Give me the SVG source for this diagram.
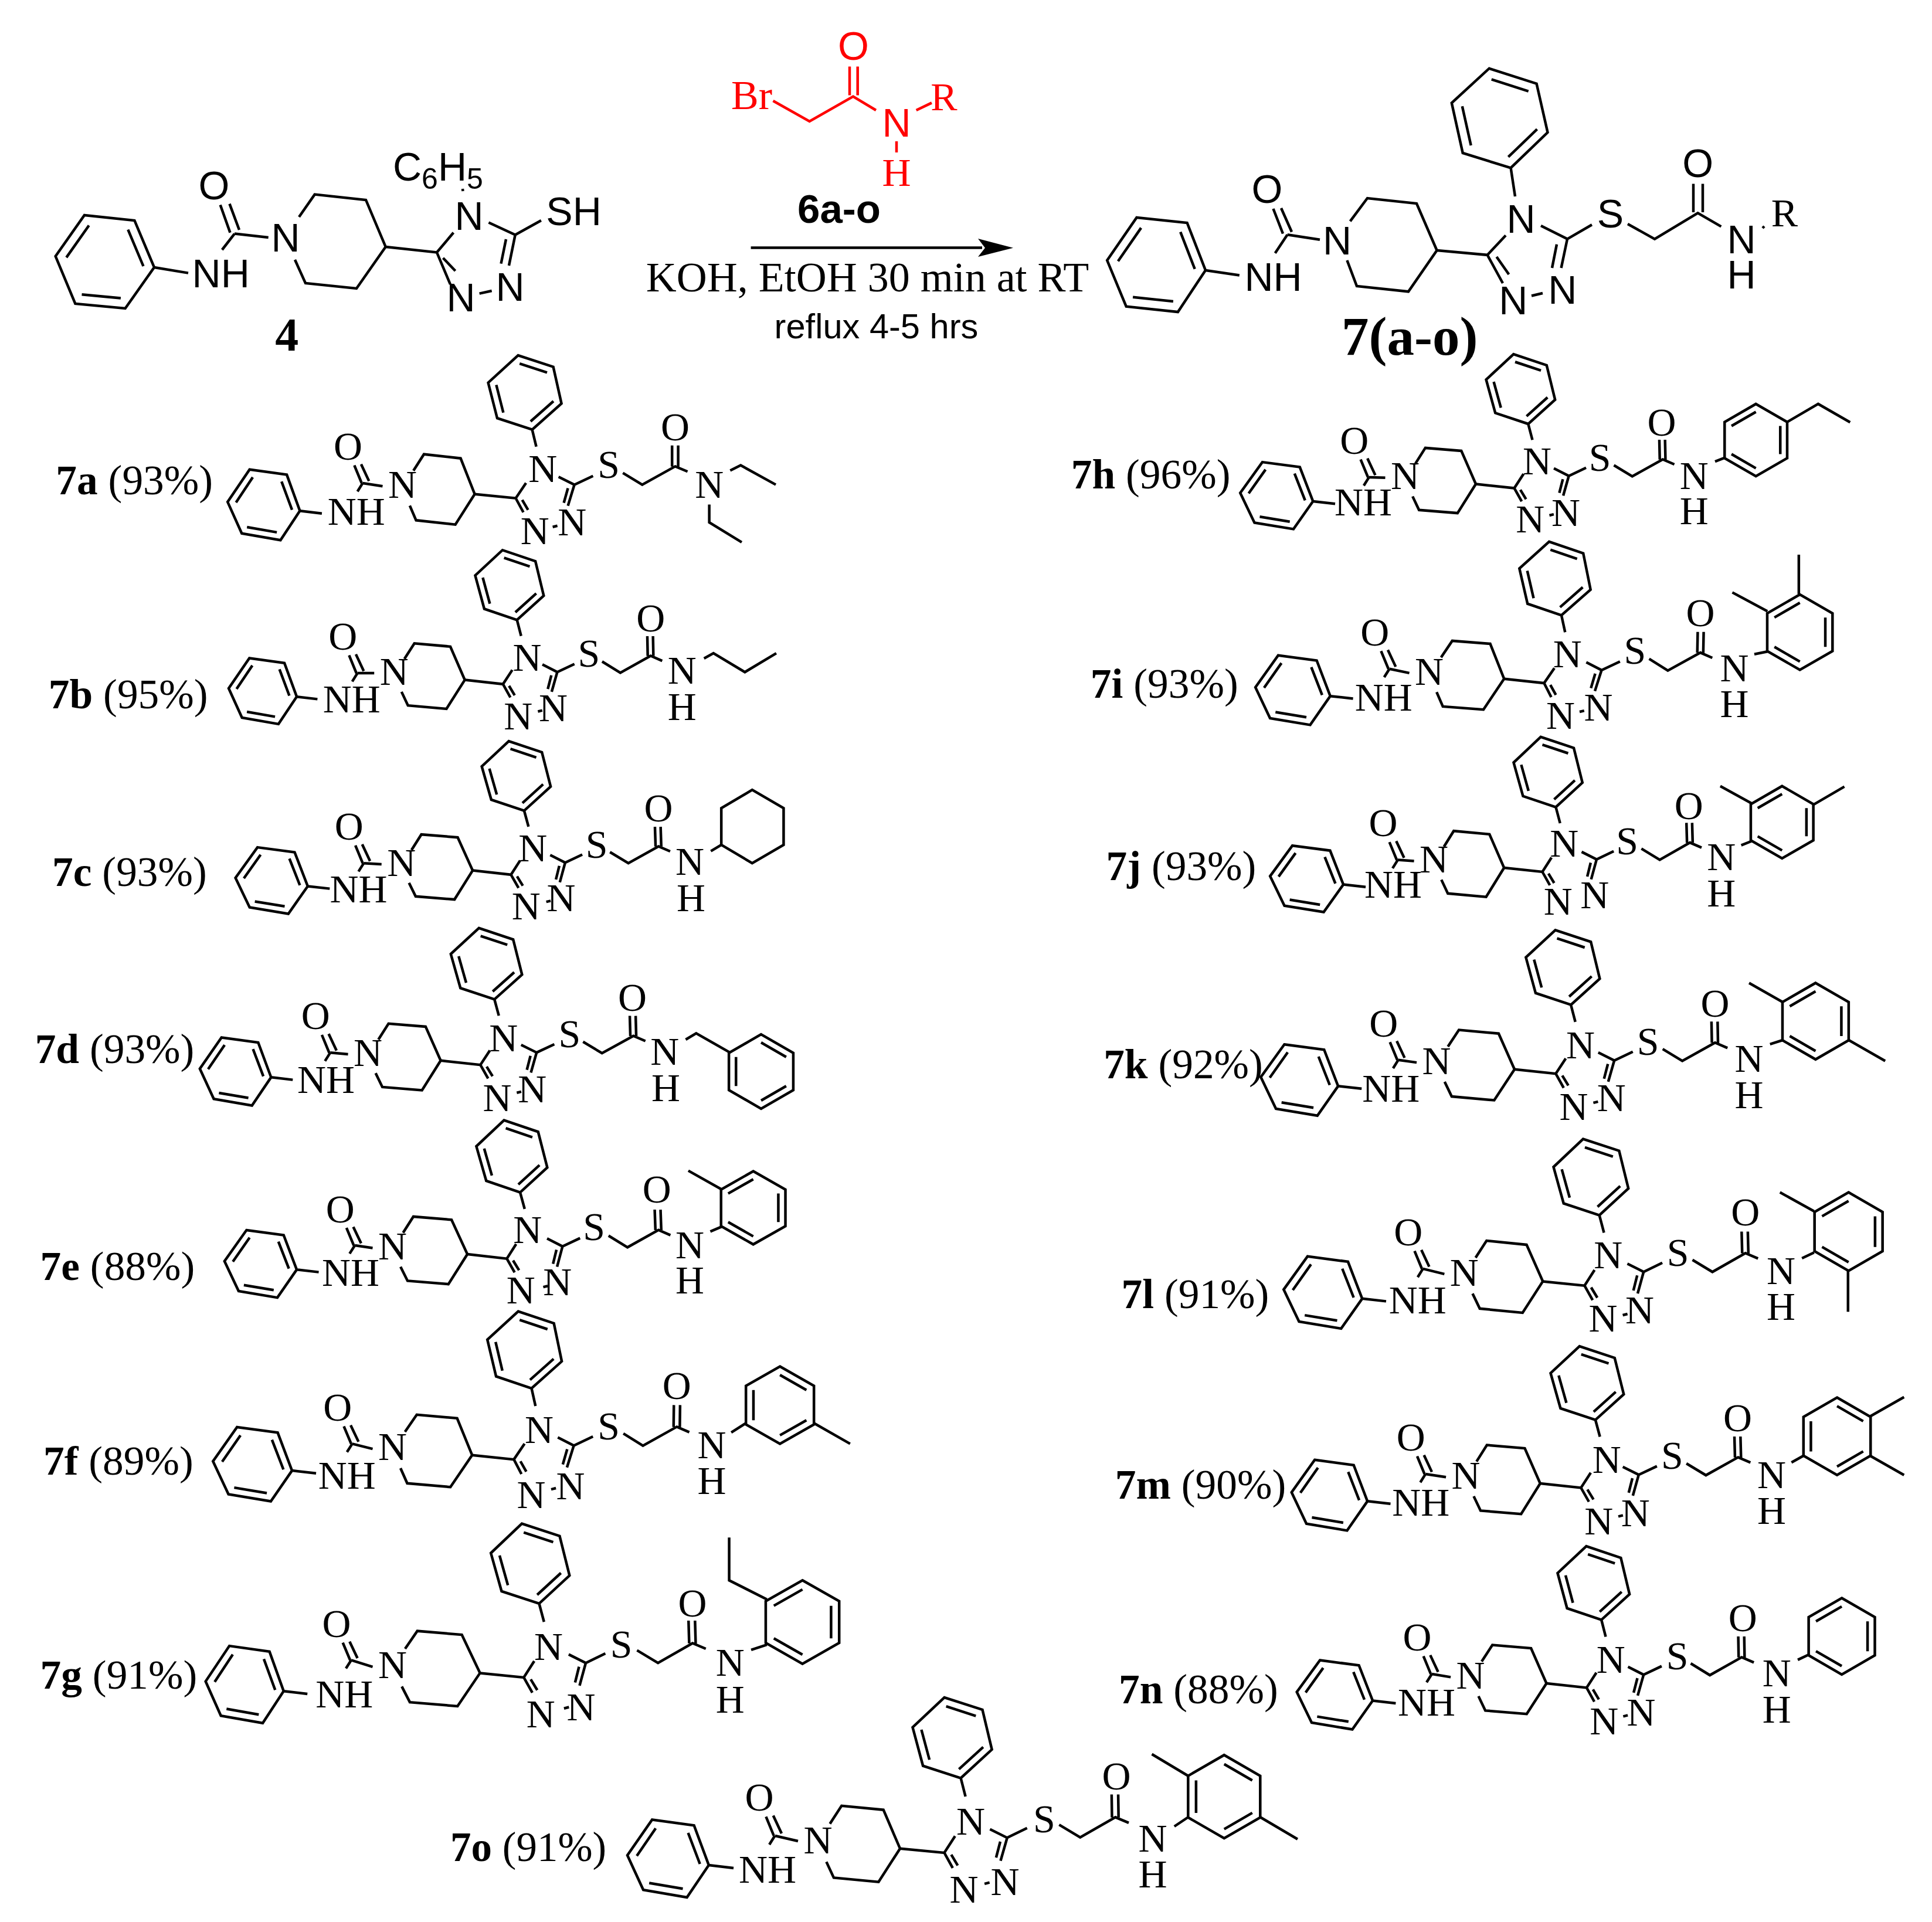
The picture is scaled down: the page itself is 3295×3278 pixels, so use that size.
<svg xmlns="http://www.w3.org/2000/svg" width="3295" height="3278" viewBox="0 0 3295 3278">
<style>
path{fill:none;stroke:#000;stroke-width:4.5;vector-effect:non-scaling-stroke;stroke-linejoin:miter}
path.red{stroke:#f00}
text{font-family:"Liberation Serif","Times New Roman",serif;fill:#000}
.p{font-size:76px;text-anchor:middle}
.c{font-size:80px}
.f{font-size:68px;text-anchor:middle}
.g{font-size:71px}
.s{font-family:"Liberation Sans",Arial,sans-serif;font-size:68px;text-anchor:middle}
.rt{fill:#f00}
.b{font-weight:bold}
</style>
<defs>
<path id="r0" d="M0 0L70 7L87.5 -19M70 7L83 31M81 10L91 27M143 -29.5L170 -16L159 20M159 -10L152 15M105 -81L98 -110L148 -154.5L134 -217L74 -236.6L23 -190L38.4 -129.5L98 -110M123.4 -207.3L76.6 -222.6M36.8 -186.2L48.8 -139M134.3 -158.5L95.3 -123.9M170 -16L201.8 -31M252.7 -36L285.7 -16L342 -47.3L363 -38.4M336.6 -47L336.6 -83M347 -47L347 -83"/>
<g id="r"><use href="#r0"/><path d="M133 56L141 54"/></g>
<path id="pip" d="M-104.5 -40L-86.6 -68L-24 -61L0 0L-33 52L-100 44.6L-110.7 19.6"/>
<path id="phA" d="M-96 -79L-25 -69L0 0L-37 56L-111 43L-138 -17ZM-90 -64L-122 -16M-35 -56L-15 -2M-44 41L-101 31M0 0L42 5"/>
<path id="urea" d="M12 11L26 45M25 9L40 41M28 45L18 61"/>
<path id="arA" d="M0 -1L.866 -.5L.866 .5L0 1L-.866 .5L-.866 -.5ZM-.675 -.39L0 -.78M.675 -.39L.675 .39M0 .78L-.675 .39"/>
<path id="arB" d="M0 -1L.866 -.5L.866 .5L0 1L-.866 .5L-.866 -.5ZM0 -.78L.675 -.39M-.675 -.39L-.675 .39M.675 .39L0 .78"/>
</defs>

<g id="compound-4">
<path d="M144 367L229.4 376L263 456L213.6 526L128.4 518L94.7 437ZM151.7 384.5L113.2 439.1M218.3 391.6L244.5 454M205.9 508.6L139.5 502.3M263 456L321 465.6M392.5 396.7L375.7 349.5M408 392L391.5 347.6M400 398.6L378.8 426M400 398.6L457.7 405M510 370L536.7 331.6L624 341L657.7 421L608 492L521 483L503 443M657.7 421L745 430.5L773.4 396.7M745 430.5L768 485M755.6 440L776.6 462M817.6 500.6L838.7 496M833.4 379.5L878.7 400.5L868 453M863 408L854.5 449.6M878.7 400.5L922.9 376M789 322L789.5 326"/>
<text class="s" x="376.7" y="490">NH</text>
<text class="s" x="365" y="340">O</text>
<text class="s" x="487" y="428.6">N</text>
<text class="s" x="800" y="392">N</text>
<text class="s" x="786" y="530.6">N</text>
<text class="s" x="870" y="513.4">N</text>
<text class="s" x="978.6" y="384">SH</text>
<text class="s" style="text-anchor:start" x="670" y="308">C<tspan font-size="50" dy="14">6</tspan><tspan dy="-14">H</tspan><tspan font-size="50" dy="14">5</tspan></text>
<text x="489.3" y="598" text-anchor="middle" font-size="80" font-weight="bold">4</text>
</g>

<g id="reagent-6a-o">
<path class="red" d="M1318.5 172L1380.6 207L1455 164.5L1494 188M1449 162.6L1449 113.5M1462.7 162.6L1462.7 113.5M1562.7 188L1589 175.4M1529 241L1529 260"/>
<text class="rt" x="1247" y="186" font-size="70">Br</text>
<text class="s rt" x="1455.4" y="102">O</text>
<text class="s rt" x="1529" y="232.8">N</text>
<text class="f rt" x="1610" y="188">R</text>
<text class="f rt" x="1529" y="317">H</text>
<text class="s b" x="1431" y="379.5" style="font-size:69px">6a-o</text>
</g>

<g id="reaction-arrow">
<path d="M1280.6 422.5L1675 422.5"/>
<polygon points="1728,422.7 1668,407 1680,422.7 1668,438" fill="#000"/>
<text x="1101.7" y="497.4" font-size="72">KOH, EtOH 30 min at RT</text>
<text x="1320.6" y="577" font-size="59.6" style="font-family:'Liberation Sans',Arial,sans-serif">reflux 4-5 hrs</text>
</g>

<g id="compound-7a-o">
<path d="M1938.6 371L2024.6 380L2056 461L2008.9 532L1920.7 522.7L1888.2 444ZM1946.1 388.6L1906.8 445.5M2013.2 395.6L2037.7 458.8M2000.9 514.1L1932.1 506.8M2056 461L2113.8 469.4M2188 398.5L2171.5 356M2203 395.5L2185 355M2195.6 400.3L2174.7 431.8M2195.6 400.3L2251 408.8M2302.7 377.3L2332 338L2416 347L2450.6 427L2402 497.3L2314 488L2297.4 444M2450.6 427L2536.7 434.8L2568 401.5M2536.7 434.8L2563 483M2552.4 438L2573.4 468M2612 504.5L2631 500M2628 385L2673 407.6L2662.6 457M2655 416.7L2647 457M2584 335L2576.6 286.4L2639.5 225.8L2620.6 142.7L2539.8 116.7L2475.8 175.5L2494.7 261L2576.6 286.4M2606.7 155.6L2543.7 135.4M2493.8 181.2L2508.7 247.9M2621.5 220.4L2572.4 267.7M2673 407.6L2715 383.3M2776 382L2822 407.6L2895.6 363.3L2935.4 386.4M2888 362L2888 313.6M2904 362L2904 313.6M3009 386L3006 389"/>
<text class="s" x="2171.5" y="495.5">NH</text>
<text class="s" x="2161" y="345.8">O</text>
<text class="s" x="2280.6" y="433.6">N</text>
<text class="s" x="2594" y="396.7">N</text>
<text class="s" x="2580.7" y="536">N</text>
<text class="s" x="2664.7" y="518">N</text>
<text class="s" x="2746.5" y="387.6">S</text>
<text class="s" x="2895.6" y="301.5">O</text>
<text class="s" x="2970" y="431.8">N</text>
<text class="s" x="2970" y="492.4">H</text>
<text class="f" x="3043.5" y="386.4">R</text>
<text x="2288" y="604.5" font-size="93" font-weight="bold">7(a-o)</text>
</g>

<g id="m7a"><use href="#r" transform="matrix(1 0 0 1 809.6 842.7)"/><use href="#pip" transform="matrix(1 0 0 1 809.6 842.7)"/>
<g transform="translate(40 590) scale(.89286)">
<use href="#phA" transform="translate(528 315)"/><use href="#urea" transform="translate(620 217)"/>
<path d="M648 262L686 268M1350 238L1370 228L1437 265M1310 303L1310 337L1372 375"/>
<text class="c" x="62" y="283"><tspan class="b">7a</tspan> (93%)</text>
<text class="p" x="620" y="217">O</text><text class="p" x="636" y="342">NH</text><text class="p" x="724" y="290">N</text><text class="p" x="992" y="260">N</text><text class="p" x="1048" y="362">N</text><text class="p" x="977" y="378">N</text><text class="p" x="1118" y="252">S</text><text class="p" x="1245" y="180">O</text><text class="p" x="1310" y="290">N</text>
</g></g>

<g id="m7b"><use href="#r" transform="matrix(.9295 .0097 .019 .9387 792.7 1159.6)"/><use href="#pip" transform="matrix(.978 -.017 .019 .9387 792.7 1159.6)"/>
<g transform="translate(40 590) scale(.89286)">
<use href="#phA" transform="translate(522 670) scale(.942 .933)"/><use href="#urea" transform="translate(610 580)"/>
<path d="M638 625L670 625M1300 597L1318 587L1378 623L1438 587"/>
<text class="c" x="48" y="692"><tspan class="b">7b</tspan> (95%)</text>
<text class="p" x="610" y="580">O</text><text class="p" x="627" y="700">NH</text><text class="p" x="708" y="647">N</text><text class="p" x="962" y="620">N</text><text class="p" x="1012" y="717">N</text><text class="p" x="945" y="732">N</text><text class="p" x="1080" y="613">S</text><text class="p" x="1198" y="545">O</text><text class="p" x="1258" y="645">N</text><text class="p" x="1258" y="715">H</text>
</g></g>

<g id="m7c"><use href="#r" transform="matrix(.9312 .0091 .0309 .9348 806.1 1484.6)"/><use href="#pip" transform="matrix(.986 -.025 .0309 .9348 806.1 1484.6)"/>
<g transform="translate(40 590) scale(.89286)">
<use href="#phA" transform="translate(543 1032) scale(1 .94)"/><use href="#urea" transform="translate(622 943)"/>
<path d="M650 988L684 990M1313 965L1333 953L1333 883L1392 848L1452 883L1452 953L1392 988L1333 953"/>
<text class="c" x="55" y="1032"><tspan class="b">7c</tspan> (93%)</text>
<text class="p" x="622" y="943">O</text><text class="p" x="640" y="1063">NH</text><text class="p" x="722" y="1012">N</text><text class="p" x="973" y="985">N</text><text class="p" x="1027" y="1080">N</text><text class="p" x="960" y="1095">N</text><text class="p" x="1095" y="978">S</text><text class="p" x="1213" y="908">O</text><text class="p" x="1273" y="1010">N</text><text class="p" x="1275" y="1080">H</text>
</g></g>

<g id="m7d"><use href="#r" transform="matrix(.9645 .0096 .0261 .9578 751.6 1808.8)"/><use href="#pip" transform="matrix(1.007 -.024 .0261 .9578 751.6 1808.8)"/>
<g transform="translate(40 590) scale(.89286)">
<use href="#phA" transform="translate(473 1397) scale(.986 .963)"/><use href="#urea" transform="translate(558 1305)"/>
<path d="M586 1350L620 1353M1265 1325L1285 1313L1350 1350"/>
<use href="#arB" transform="translate(1409 1386) scale(71)"/>
<text class="c" x="22" y="1370"><tspan class="b">7d</tspan> (93%)</text>
<text class="p" x="558" y="1305">O</text><text class="p" x="578" y="1427">NH</text><text class="p" x="658" y="1375">N</text><text class="p" x="917" y="1347">N</text><text class="p" x="972" y="1445">N</text><text class="p" x="905" y="1462">N</text><text class="p" x="1043" y="1340">S</text><text class="p" x="1163" y="1270">O</text><text class="p" x="1225" y="1373">N</text><text class="p" x="1227" y="1442">H</text>
</g></g>

<g id="m7e"><use href="#r" transform="matrix(.9578 .0134 .0354 .9699 797.1 2139)"/><use href="#pip" transform="matrix(1.036 -.022 .0354 .9699 797.1 2139)"/>
<g transform="translate(40 1900) scale(.89286 .87873)">
<use href="#phA" transform="translate(522 302) scale(1 .97)"/><use href="#urea" transform="translate(605 210)"/>
<path d="M633 255L667 260M1312 228L1335 218M1335 147L1270 110"/>
<use href="#arA" transform="translate(1394 182) scale(71)"/>
<text class="c" x="32" y="322"><tspan class="b">7e</tspan> (88%)</text>
<text class="p" x="605" y="210">O</text><text class="p" x="625" y="333">NH</text><text class="p" x="705" y="282">N</text><text class="p" x="963" y="250">N</text><text class="p" x="1020" y="352">N</text><text class="p" x="950" y="368">N</text><text class="p" x="1090" y="245">S</text><text class="p" x="1210" y="172">O</text><text class="p" x="1273" y="280">N</text><text class="p" x="1273" y="348">H</text>
</g></g>

<g id="m7f"><use href="#r" transform="matrix(1.0189 .0022 -.0135 1.037 805.2 2481.7)"/><use href="#pip" transform="matrix(1.101 -.018 -.0135 1.037 805.2 2481.7)"/>
<g transform="translate(40 1900) scale(.89286 .87873)">
<use href="#phA" transform="translate(513 692) scale(1.094 1.067)"/><use href="#urea" transform="translate(600 595)"/>
<path d="M628 640L667 650M1352 618L1380 600M1510 600L1579 640"/>
<use href="#arB" transform="translate(1445 565) scale(75)"/>
<text class="c" x="38" y="700"><tspan class="b">7f</tspan> (89%)</text>
<text class="p" x="600" y="595">O</text><text class="p" x="618" y="727">NH</text><text class="p" x="705" y="672">N</text><text class="p" x="985" y="638">N</text><text class="p" x="1045" y="748">N</text><text class="p" x="970" y="765">N</text><text class="p" x="1118" y="632">S</text><text class="p" x="1248" y="553">O</text><text class="p" x="1315" y="668">N</text><text class="p" x="1315" y="738">H</text>
</g></g>

<g id="m7g"><use href="#r" transform="matrix(1.0643 0 .0311 1.0768 818.6 2853.4)"/><use href="#pip" transform="matrix(1.21 -.017 .0311 1.0768 818.6 2853.4)"/>
<g transform="translate(40 1900) scale(.89286 .87873)">
<use href="#phA" transform="translate(497 1120) scale(1.08 1.11)"/><use href="#urea" transform="translate(598 1015)"/>
<path d="M626 1060L667 1073M1390 1040L1420 1030M1420 942L1348 905L1348 822"/>
<use href="#arA" transform="translate(1488 986) scale(81)"/>
<text class="c" x="32" y="1115"><tspan class="b">7g</tspan> (91%)</text>
<text class="p" x="598" y="1015">O</text><text class="p" x="613" y="1152">NH</text><text class="p" x="705" y="1095">N</text><text class="p" x="1003" y="1060">N</text><text class="p" x="1065" y="1177">N</text><text class="p" x="988" y="1190">N</text><text class="p" x="1142" y="1055">S</text><text class="p" x="1278" y="975">O</text><text class="p" x="1350" y="1090">N</text><text class="p" x="1350" y="1162">H</text>
</g></g>

<g id="m7h"><use href="#r" transform="matrix(.9349 .0069 .0207 .9379 2517 825.5)"/><use href="#pip" transform="matrix(.978 -.025 .0207 .9379 2517 825.5)"/>
<g transform="translate(1800 580) scale(.89286)">
<use href="#phA" transform="translate(492 308) scale(1.007 .948)"/><use href="#urea" transform="translate(571 217)"/>
<path d="M599 262L630 263M1260 232L1278 225M1397 157L1457 122L1518 157"/>
<use href="#arA" transform="translate(1338 191) scale(69)"/>
<text class="c" x="30" y="283"><tspan class="b">7h</tspan> (96%)</text>
<text class="p" x="571" y="217">O</text><text class="p" x="588" y="335">NH</text><text class="p" x="668" y="285">N</text><text class="p" x="920" y="257">N</text><text class="p" x="975" y="355">N</text><text class="p" x="907" y="367">N</text><text class="p" x="1040" y="250">S</text><text class="p" x="1158" y="183">O</text><text class="p" x="1220" y="285">N</text><text class="p" x="1220" y="352">H</text>
</g></g>

<g id="m7i"><use href="#r" transform="matrix(.9763 .0066 -.0193 .9907 2565.2 1157.7)"/><use href="#pip" transform="matrix(1.036 -.03 -.0193 .9907 2565.2 1157.7)"/>
<g transform="translate(1800 580) scale(.89286)">
<use href="#phA" transform="translate(525 680) scale(1.036 .985)"/><use href="#urea" transform="translate(610 583)"/>
<path d="M638 628L676 636M1335 600L1360 595M1360 518L1293 482M1420 485L1420 410"/>
<use href="#arA" transform="translate(1422 558) scale(72)"/>
<text class="c" x="67" y="683"><tspan class="b">7i</tspan> (93%)</text>
<text class="p" x="610" y="583">O</text><text class="p" x="627" y="708">NH</text><text class="p" x="714" y="658">N</text><text class="p" x="978" y="625">N</text><text class="p" x="1037" y="727">N</text><text class="p" x="965" y="742">N</text><text class="p" x="1107" y="618">S</text><text class="p" x="1232" y="546">O</text><text class="p" x="1297" y="652">N</text><text class="p" x="1297" y="720">H</text>
</g></g>

<g id="m7j"><use href="#r0" transform="matrix(.9306 .0053 .0269 .945 2565.2 1480)"/><use href="#pip" transform="matrix(.971 -.017 .0269 .945 2565.2 1480)"/>
<g transform="translate(1800 580) scale(.89286)">
<use href="#phA" transform="translate(550 1040) scale(1.014 .94)"/><use href="#urea" transform="translate(626 948)"/>
<path d="M654 993L685 995M1310 965L1330 957M1330 885L1270 852M1447 888L1507 853"/>
<use href="#arA" transform="translate(1388 921) scale(69)"/>
<text class="c" x="97" y="1032"><tspan class="b">7j</tspan> (93%)</text>
<text class="p" x="626" y="948">O</text><text class="p" x="645" y="1065">NH</text><text class="p" x="723" y="1017">N</text><text class="p" x="972" y="987">N</text><text class="p" x="1030" y="1085">N</text><text class="p" x="960" y="1098">N</text><text class="p" x="1092" y="982">S</text><text class="p" x="1210" y="915">O</text><text class="p" x="1272" y="1012">N</text><text class="p" x="1272" y="1082">H</text>
</g></g>

<g id="m7k"><use href="#r" transform="matrix(1.0027 .006 .0194 1.0057 2583 1823.75)"/><use href="#pip" transform="matrix(1.08 -.014 .0194 1.0057 2583 1823.75)"/>
<g transform="translate(1800 580) scale(.89286)">
<use href="#phA" transform="translate(540 1425) scale(1.07 1.007)"/><use href="#urea" transform="translate(627 1330)"/>
<path d="M655 1375L690 1380M1365 1345L1390 1337M1390 1265L1325 1228M1515 1337L1585 1377"/>
<use href="#arA" transform="translate(1452 1301) scale(73)"/>
<text class="c" x="92" y="1410"><tspan class="b">7k</tspan> (92%)</text>
<text class="p" x="627" y="1330">O</text><text class="p" x="641" y="1455">NH</text><text class="p" x="728" y="1402">N</text><text class="p" x="1003" y="1372">N</text><text class="p" x="1062" y="1473">N</text><text class="p" x="990" y="1490">N</text><text class="p" x="1132" y="1365">S</text><text class="p" x="1260" y="1292">O</text><text class="p" x="1325" y="1398">N</text><text class="p" x="1325" y="1467">H</text>
</g></g>

<g id="m7l"><use href="#r" transform="matrix(1.0139 .0011 .0266 1.0269 2631.25 2185.4)"/><use href="#pip" transform="matrix(1.087 -.006 .0266 1.0269 2631.25 2185.4)"/>
<g transform="translate(1850 1880) scale(.89286)">
<use href="#phA" transform="translate(530 375) scale(1.087 1.022)"/><use href="#urea" transform="translate(618 273)"/>
<path d="M646 318L687 328M1370 298L1393 287M1393 208L1328 172M1458 322L1458 400"/>
<use href="#arA" transform="translate(1459 247) scale(75)"/>
<text class="c" x="70" y="393"><tspan class="b">7l</tspan> (91%)</text>
<text class="p" x="618" y="273">O</text><text class="p" x="636" y="403">NH</text><text class="p" x="725" y="350">N</text><text class="p" x="1000" y="317">N</text><text class="p" x="1060" y="422">N</text><text class="p" x="990" y="438">N</text><text class="p" x="1133" y="312">S</text><text class="p" x="1262" y="235">O</text><text class="p" x="1330" y="347">N</text><text class="p" x="1330" y="415">H</text>
</g></g>

<g id="m7m"><use href="#r" transform="matrix(.9906 .0066 .0266 .9907 2626.8 2530)"/><use href="#pip" transform="matrix(1.029 -.022 .0266 .9907 2626.8 2530)"/>
<g transform="translate(1850 1880) scale(.89286)">
<use href="#phA" transform="translate(540 762) scale(1.05 1)"/><use href="#urea" transform="translate(623 665)"/>
<path d="M651 710L690 716M1350 688L1373 675M1500 600L1565 563M1500 675L1565 712"/>
<use href="#arB" transform="translate(1437 638) scale(74)"/>
<text class="c" x="58" y="757"><tspan class="b">7m</tspan> (90%)</text>
<text class="p" x="623" y="665">O</text><text class="p" x="642" y="790">NH</text><text class="p" x="728" y="738">N</text><text class="p" x="997" y="708">N</text><text class="p" x="1052" y="810">N</text><text class="p" x="982" y="825">N</text><text class="p" x="1122" y="700">S</text><text class="p" x="1247" y="628">O</text><text class="p" x="1312" y="737">N</text><text class="p" x="1312" y="805">H</text>
</g></g>

<g id="m7n"><use href="#r" transform="matrix(.9762 .0066 .0183 .9907 2637.5 2871)"/><use href="#pip" transform="matrix(1.051 -.022 .0183 .9907 2637.5 2871)"/>
<g transform="translate(1850 1880) scale(.89286)">
<use href="#phA" transform="translate(550 1143) scale(1.05 .978)"/><use href="#urea" transform="translate(635 1047)"/>
<path d="M663 1092L699 1098M1362 1065L1383 1055"/>
<use href="#arA" transform="translate(1446 1020) scale(73)"/>
<text class="c" x="65" y="1148"><tspan class="b">7n</tspan> (88%)</text>
<text class="p" x="635" y="1047">O</text><text class="p" x="653" y="1172">NH</text><text class="p" x="737" y="1120">N</text><text class="p" x="1005" y="1090">N</text><text class="p" x="1063" y="1190">N</text><text class="p" x="992" y="1207">N</text><text class="p" x="1132" y="1083">S</text><text class="p" x="1257" y="1010">O</text><text class="p" x="1322" y="1115">N</text><text class="p" x="1322" y="1185">H</text>
</g></g>

<g id="m7o"><use href="#r" transform="matrix(1.0763 -.0057 .0171 1.0874 1535 3152.7)"/><use href="#pip" transform="matrix(1.138 -.012 .0171 1.0874 1535 3152.7)"/>
<use href="#phA" transform="translate(1208.8 3181) scale(1.006 .982)"/><use href="#urea" transform="translate(1295 3088) scale(.95)"/>
<path d="M1322 3131L1361 3140M2002.8 3115L2026.7 3099M2026.7 3029L1964.5 2991.7M2149 3099L2213 3136.7"/>
<use href="#arB" transform="translate(2087.8 3064.2) scale(71)"/>
<text class="g" x="768" y="3174"><tspan class="b">7o</tspan> (91%)</text>
<text class="f" x="1295" y="3088">O</text><text class="f" x="1309" y="3211">NH</text><text class="f" x="1395" y="3160.7">N</text><text class="f" x="1655.5" y="3129">N</text><text class="f" x="1714" y="3231.7">N</text><text class="f" x="1644" y="3245">N</text><text class="f" x="1781" y="3125">S</text><text class="f" x="1904" y="3052">O</text><text class="f" x="1966" y="3158">N</text><text class="f" x="1966" y="3219">H</text>
</g>
</svg>
